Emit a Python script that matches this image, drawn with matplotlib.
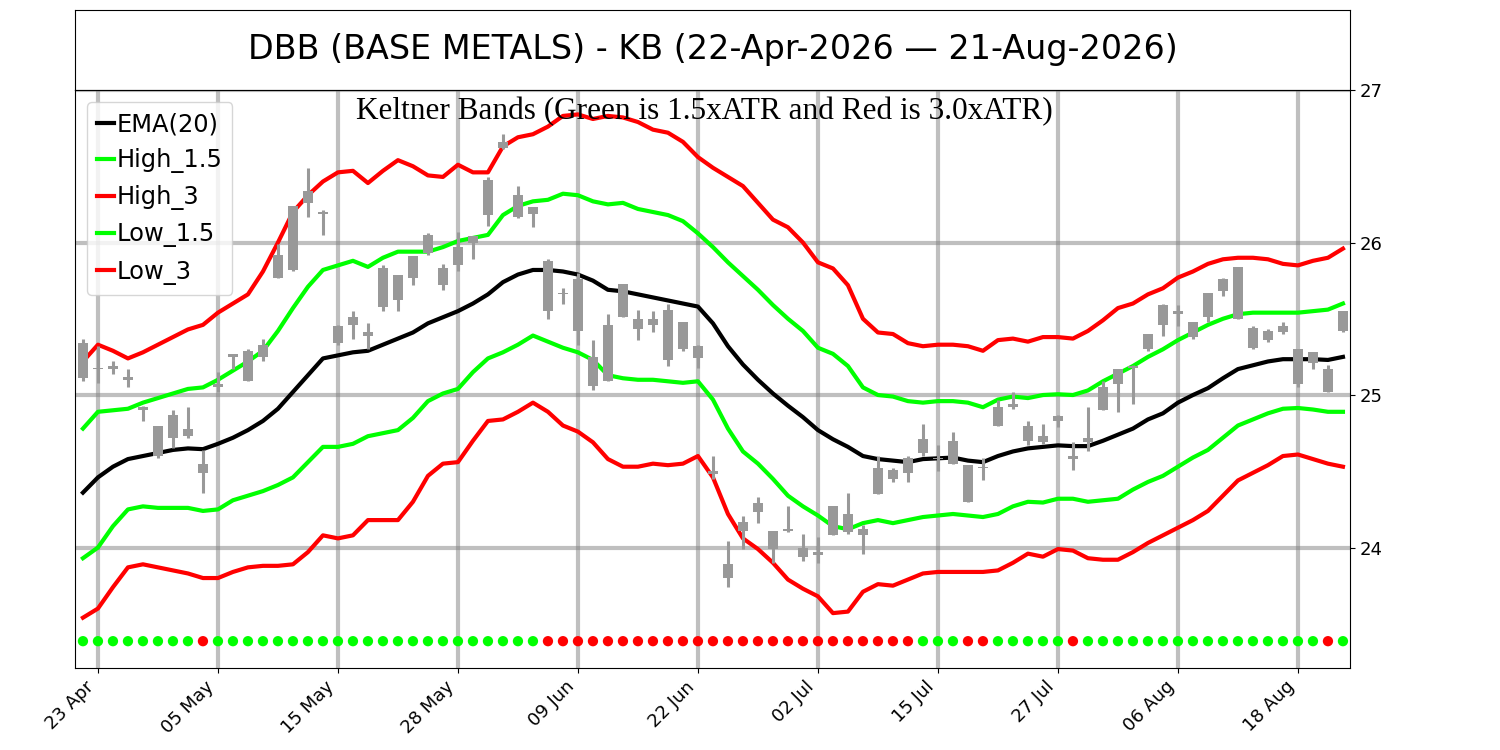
import numpy as np
import pandas as pd
import matplotlib
matplotlib.use("Agg")
import matplotlib.pyplot as plt

# ---------------- data ----------------
title_text = "DBB (BASE METALS) - KB (22-Apr-2026 \u2014 21-Aug-2026)"
subtitle_text = "Keltner Bands (Green is 1.5xATR and Red is 3.0xATR)"

# trading days 22-Apr-2026 .. 21-Aug-2026 (US market holidays removed)
holidays = ["2026-05-25", "2026-06-19", "2026-07-03"]
dates = pd.bdate_range("2026-04-22", "2026-08-21", freq="C", holidays=holidays)

highs = [25.37, 25.32, 25.22, 25.17, 24.93, 24.80, 24.90, 24.92, 24.64, 25.15,
         25.27, 25.30, 25.37, 25.99, 26.24, 26.49, 26.21, 25.46, 25.55, 25.47,
         25.85, 25.79, 25.91, 26.06, 25.86, 26.07, 26.04, 26.43, 26.71, 26.37,
         26.23, 25.89, 25.70, 25.80, 25.36, 25.53, 25.73, 25.56, 25.55, 25.60,
         25.48, 25.33, 24.60, 24.04, 24.21, 24.33, 24.11, 24.27, 24.09, 24.07,
         24.27, 24.36, 24.15, 24.60, 24.52, 24.60, 24.81, 24.67, 24.76, 24.54,
         24.59, 24.97, 25.02, 24.83, 24.81, 24.87, 24.69, 24.92, 25.09, 25.17,
         25.20, 25.40, 25.60, 25.59, 25.48, 25.67, 25.77, 25.84, 25.45, 25.43,
         25.48, 25.30, 25.28, 25.20, 25.55]
lows = [25.09, 25.08, 25.14, 25.05, 24.83, 24.59, 24.65, 24.72, 24.36, 25.02,
        25.17, 25.09, 25.22, 25.77, 25.81, 26.17, 26.05, 25.33, 25.37, 25.30,
        25.55, 25.55, 25.72, 25.92, 25.69, 25.81, 25.89, 26.11, 26.61, 26.16,
        26.10, 25.50, 25.60, 25.33, 25.03, 25.09, 25.51, 25.36, 25.41, 25.19,
        25.29, 25.18, 24.45, 23.74, 23.99, 24.16, 23.90, 24.10, 23.91, 23.90,
        24.08, 24.09, 23.96, 24.35, 24.43, 24.43, 24.60, 24.50, 24.55, 24.30,
        24.44, 24.80, 24.91, 24.67, 24.68, 24.79, 24.51, 24.63, 24.90, 24.89,
        24.94, 25.29, 25.39, 25.45, 25.37, 25.48, 25.65, 25.50, 25.30, 25.35,
        25.40, 25.05, 25.17, 25.02, 25.41]
# candle bodies (all candles are drawn in the same grey)
body_top = [25.34, 25.18, 25.19, 25.12, 24.92, 24.80, 24.87, 24.78, 24.55, 25.07,
            25.27, 25.29, 25.33, 25.92, 26.24, 26.34, 26.20, 25.45, 25.51, 25.41,
            25.83, 25.79, 25.91, 26.05, 25.83, 25.97, 26.04, 26.41, 26.66, 26.31,
            26.23, 25.88, 25.67, 25.76, 25.25, 25.46, 25.73, 25.50, 25.50, 25.56,
            25.48, 25.32, 24.50, 23.89, 24.17, 24.29, 24.11, 24.12, 24.00, 23.97,
            24.27, 24.22, 24.12, 24.52, 24.51, 24.59, 24.71, 24.59, 24.70, 24.54,
            24.53, 24.92, 24.94, 24.80, 24.73, 24.86, 24.60, 24.72, 25.05, 25.17,
            25.19, 25.40, 25.59, 25.55, 25.48, 25.67, 25.76, 25.84, 25.44, 25.42,
            25.45, 25.30, 25.28, 25.17, 25.55]
body_bottom = [25.11, 25.17, 25.17, 25.10, 24.90, 24.60, 24.72, 24.73, 24.49, 25.05,
               25.25, 25.09, 25.25, 25.77, 25.82, 26.26, 26.19, 25.34, 25.46, 25.39,
               25.58, 25.62, 25.77, 25.93, 25.72, 25.85, 26.00, 26.18, 26.62, 26.17,
               26.19, 25.55, 25.66, 25.42, 25.06, 25.09, 25.51, 25.43, 25.46, 25.23,
               25.30, 25.24, 24.48, 23.80, 24.11, 24.23, 23.99, 24.11, 23.94, 23.95,
               24.08, 24.10, 24.08, 24.35, 24.45, 24.49, 24.62, 24.58, 24.55, 24.30,
               24.52, 24.80, 24.92, 24.70, 24.69, 24.83, 24.58, 24.69, 24.90, 25.07,
               25.18, 25.30, 25.46, 25.53, 25.38, 25.51, 25.68, 25.50, 25.31, 25.36,
               25.41, 25.07, 25.21, 25.02, 25.42]

ema20 = [24.36, 24.46, 24.53, 24.58, 24.60, 24.62, 24.64, 24.65, 24.645, 24.68,
         24.72, 24.77, 24.83, 24.91, 25.02, 25.13, 25.24, 25.26, 25.28, 25.29,
         25.33, 25.37, 25.41, 25.47, 25.51, 25.55, 25.60, 25.66, 25.74, 25.79,
         25.82, 25.82, 25.81, 25.79, 25.75, 25.69, 25.68, 25.66, 25.64, 25.62,
         25.60, 25.58, 25.47, 25.32, 25.20, 25.10, 25.01, 24.93, 24.855, 24.77,
         24.71, 24.66, 24.60, 24.58, 24.57, 24.56, 24.58, 24.585, 24.59, 24.57,
         24.56, 24.60, 24.63, 24.65, 24.66, 24.67, 24.665, 24.665, 24.70, 24.74,
         24.78, 24.84, 24.88, 24.95, 25.00, 25.045, 25.11, 25.17, 25.195, 25.22,
         25.235, 25.235, 25.235, 25.23, 25.25]
high_15 = [24.78, 24.89, 24.90, 24.91, 24.95, 24.98, 25.01, 25.04, 25.05, 25.10,
           25.16, 25.22, 25.29, 25.42, 25.57, 25.71, 25.82, 25.85, 25.88, 25.84,
           25.90, 25.94, 25.94, 25.94, 25.97, 26.01, 26.03, 26.05, 26.18, 26.24,
           26.27, 26.28, 26.32, 26.31, 26.27, 26.25, 26.26, 26.22, 26.20, 26.18,
           26.14, 26.06, 25.97, 25.87, 25.78, 25.69, 25.59, 25.50, 25.42, 25.31,
           25.27, 25.19, 25.05, 25.00, 24.99, 24.96, 24.95, 24.96, 24.96, 24.95,
           24.92, 24.97, 24.99, 24.98, 25.00, 25.005, 25.00, 25.03, 25.09, 25.14,
           25.19, 25.25, 25.30, 25.36, 25.41, 25.46, 25.50, 25.53, 25.54, 25.54,
           25.54, 25.54, 25.55, 25.56, 25.60]
high_3 = [25.22, 25.33, 25.29, 25.24, 25.28, 25.33, 25.38, 25.43, 25.46, 25.54,
          25.60, 25.66, 25.81, 26.00, 26.20, 26.31, 26.40, 26.46, 26.47, 26.39,
          26.47, 26.54, 26.50, 26.44, 26.43, 26.51, 26.46, 26.46, 26.63, 26.69,
          26.71, 26.76, 26.83, 26.84, 26.81, 26.83, 26.82, 26.79, 26.74, 26.72,
          26.66, 26.56, 26.49, 26.43, 26.37, 26.26, 26.15, 26.10, 26.00, 25.87,
          25.83, 25.72, 25.50, 25.41, 25.40, 25.34, 25.32, 25.33, 25.33, 25.32,
          25.29, 25.36, 25.37, 25.35, 25.38, 25.38, 25.37, 25.42, 25.49, 25.57,
          25.60, 25.66, 25.70, 25.77, 25.81, 25.86, 25.89, 25.90, 25.90, 25.89,
          25.86, 25.85, 25.88, 25.90, 25.96]
low_15 = [23.93, 24.00, 24.14, 24.25, 24.27, 24.26, 24.26, 24.26, 24.24, 24.25,
          24.31, 24.34, 24.37, 24.41, 24.46, 24.56, 24.66, 24.66, 24.68, 24.73,
          24.75, 24.77, 24.85, 24.96, 25.01, 25.04, 25.15, 25.24, 25.28, 25.33,
          25.39, 25.35, 25.31, 25.28, 25.23, 25.13, 25.11, 25.10, 25.10, 25.09,
          25.08, 25.09, 24.97, 24.78, 24.63, 24.55, 24.45, 24.34, 24.27, 24.21,
          24.14, 24.12, 24.16, 24.18, 24.16, 24.18, 24.20, 24.21, 24.22, 24.21,
          24.20, 24.22, 24.27, 24.30, 24.295, 24.32, 24.32, 24.30, 24.31, 24.32,
          24.38, 24.43, 24.47, 24.53, 24.59, 24.64, 24.72, 24.80, 24.84, 24.88,
          24.91, 24.915, 24.905, 24.89, 24.89]
low_3 = [23.54, 23.60, 23.74, 23.87, 23.89, 23.87, 23.85, 23.83, 23.80, 23.80,
         23.84, 23.87, 23.88, 23.88, 23.89, 23.97, 24.08, 24.06, 24.08, 24.18,
         24.18, 24.18, 24.30, 24.47, 24.55, 24.56, 24.70, 24.83, 24.84, 24.89,
         24.95, 24.89, 24.80, 24.76, 24.69, 24.58, 24.53, 24.53, 24.55, 24.54,
         24.55, 24.60, 24.46, 24.22, 24.06, 23.99, 23.90, 23.79, 23.73, 23.68,
         23.57, 23.58, 23.71, 23.76, 23.75, 23.79, 23.83, 23.84, 23.84, 23.84,
         23.84, 23.85, 23.90, 23.96, 23.94, 23.99, 23.98, 23.93, 23.92, 23.92,
         23.97, 24.03, 24.08, 24.13, 24.18, 24.24, 24.34, 24.44, 24.49, 24.54,
         24.60, 24.61, 24.58, 24.55, 24.53]

# signal row at the bottom: 1 = green, 0 = red
signals = ([1] * 8 + [0] + [1] * 22 + [0] * 25 + [1] * 3 + [0] * 2 +
           [1] * 5 + [0] + [1] * 16 + [0] + [1])
signal_level = 23.386

tick_every = 8
tick_start = 1
y_ticks = [24, 25, 26, 27]

# ---------------- drawing ----------------
n = len(dates)
x = np.arange(n)
highs = np.array(highs); lows = np.array(lows)
body_top = np.array(body_top); body_bottom = np.array(body_bottom)

fig = plt.figure(figsize=(15, 7.5), dpi=100)
tax = fig.add_axes([0.05, 0.88, 0.85, 0.1067])
ax = fig.add_axes([0.05, 0.1093, 0.85, 0.7707])

tax.set_xticks([]); tax.set_yticks([])
tax.text(0.5, 0.5, title_text, ha="center", va="center", fontsize=24,
         transform=tax.transAxes)

ax.grid(True, color="gray", alpha=0.5, linewidth=3, zorder=0)
ax.set_axisbelow(True)

ax.plot(x, ema20, color="black", lw=3, label="EMA(20)", zorder=2)
ax.plot(x, high_15, color="#00ff00", lw=3, label="High_1.5", zorder=2)
ax.plot(x, high_3, color="#ff0000", lw=3, label="High_3", zorder=2)
ax.plot(x, low_15, color="#00ff00", lw=3, label="Low_1.5", zorder=2)
ax.plot(x, low_3, color="#ff0000", lw=3, label="Low_3", zorder=2)

candle_color = "#999999"
ax.vlines(x, lows, highs, color=candle_color, linewidth=2.2, zorder=3)
ax.bar(x, body_top - body_bottom, bottom=body_bottom, width=0.66,
       color=candle_color, zorder=3)

sig_colors = ["#00ff00" if s == 1 else "#ff0000" for s in signals]
ax.scatter(x, [signal_level] * n, c=sig_colors, s=55, zorder=3, linewidths=0)

ax.text(0.494, 0.988, subtitle_text, transform=ax.transAxes, ha="center",
        va="top", fontsize=22.5, family="Liberation Serif", zorder=5)

ax.set_xlim(-0.53, n - 0.53)
ax.set_ylim(23.21, 27.0)
ax.yaxis.tick_right()
ax.set_yticks(y_ticks)
tick_pos = list(range(tick_start, n, tick_every))
ax.set_xticks(tick_pos)
ax.set_xticklabels([dates[i].strftime("%d %b") for i in tick_pos],
                   rotation=45, ha="right", rotation_mode="default")
ax.tick_params(axis="both", labelsize=13)

ax.legend(loc="upper left", fontsize=17.4, handlelength=0.69, handletextpad=0.1,
          labelspacing=0.5, borderpad=0.42)

fig.savefig("out.png", dpi=100)
